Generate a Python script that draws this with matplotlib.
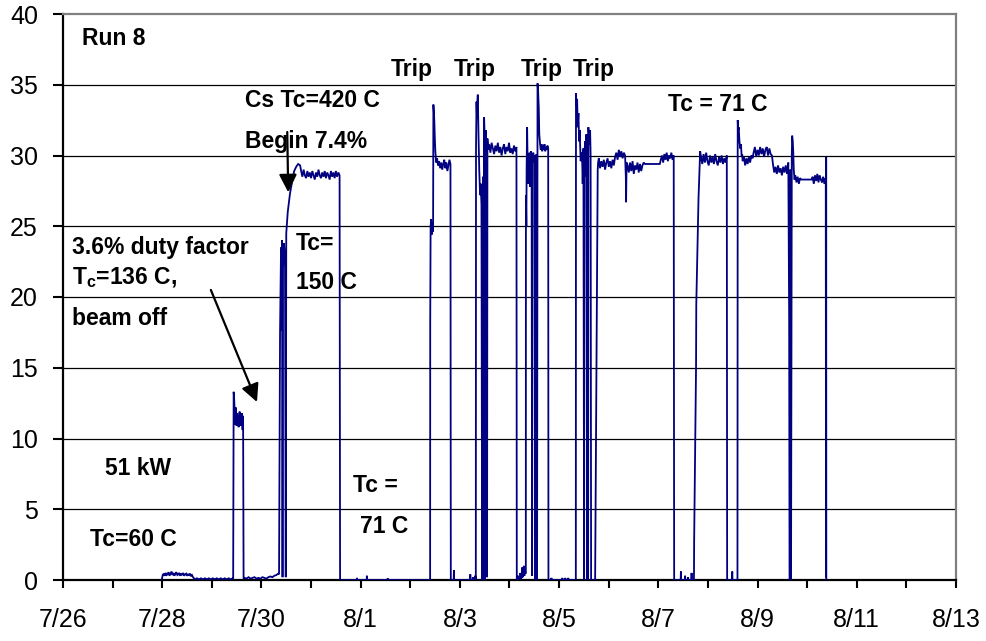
import numpy as np
import matplotlib
matplotlib.use('Agg')
import matplotlib.pyplot as plt
from matplotlib.ticker import FixedLocator, NullFormatter

plt.rcParams['font.family'] = ['Liberation Sans', 'DejaVu Sans']
plt.rcParams['mathtext.fontset'] = 'custom'
plt.rcParams['mathtext.rm'] = 'Liberation Sans'
plt.rcParams['mathtext.bf'] = 'Liberation Sans:bold'

# ---------------- data (time in days since 7/26 00:00) -------------
tick_days = [0, 2, 4, 6, 8, 10, 12, 14, 16, 18]
tick_labels = ['7/26', '7/28', '7/30', '8/1', '8/3', '8/5', '8/7', '8/9', '8/11', '8/13']
minor_days = [1, 3, 5, 7, 9, 11, 13, 15, 17]
y_ticks = [0, 5, 10, 15, 20, 25, 30, 35, 40]


def grid(a, b, vals):
    return list(np.linspace(a, b, len(vals))), list(vals)


idle1_t, idle1_v = grid(1.99, 2.62, [0.0, 0.35, 0.45, 0.3, 0.5, 0.35, 0.4, 0.55, 0.3, 0.45, 0.6, 0.35, 0.5,
                                     0.3, 0.45, 0.55, 0.35, 0.4, 0.5, 0.3, 0.45, 0.35, 0.5, 0.3, 0.4, 0.45,
                                     0.3, 0.4, 0.35, 0.45, 0.3, 0.35, 0.2])
idle2_t, idle2_v = grid(2.66, 3.42, [0.05, 0.12, 0.05, 0.12, 0.05, 0.12, 0.05, 0.12, 0.05, 0.12,
                                     0.05, 0.12, 0.05, 0.12, 0.05, 0.12, 0.05, 0.12, 0.05, 0.12])
duty_t, duty_v = grid(3.43, 3.64, [0.1, 13.3, 12.8, 12.0, 11.0, 12.2, 11.4, 10.9, 11.8, 11.2, 11.6,
                                   10.8, 11.5, 11.9, 11.0, 11.7, 10.9, 11.8, 11.4, 10.6, 11.6, 0.1])
off1_t, off1_v = grid(3.66, 4.34, [0.15, 0.1, 0.2, 0.1, 0.15, 0.2, 0.1, 0.15, 0.1, 0.2, 0.15, 0.1,
                                   0.2, 0.25, 0.2, 0.3, 0.35, 0.45])
rise1_t = [4.355, 4.375, 4.395, 4.405, 4.415, 4.425, 4.435, 4.455, 4.475, 4.49, 4.50, 4.53, 4.575,
           4.62, 4.66, 4.70, 4.74, 4.78]
rise1_v = [0.4, 17.5, 23.5, 17.6, 24.0, 0.2, 22.0, 23.8, 22.5, 0.2, 24.5, 26.0, 27.3, 28.2, 28.9,
           29.2, 29.4, 29.3]
plat1_t, plat1_v = grid(4.80, 5.575, [28.9, 28.5, 29.0, 28.6, 28.4, 28.9, 28.5, 28.8, 28.4, 28.9, 28.6,
                                      28.3, 28.8, 28.5, 29.0, 28.6, 28.4, 28.8, 28.5, 28.9, 28.4, 28.8,
                                      28.6, 28.3, 28.9, 28.5, 28.8, 28.4, 28.9, 28.5, 28.8, 28.6])
off2_t = [5.585, 5.60, 5.92, 5.925, 5.93, 6.12, 6.125, 6.13, 6.54, 6.545, 6.55, 7.39]
off2_v = [0, 0, 0, 0.15, 0, 0, 0.3, 0, 0, 0.12, 0, 0]
trip1a_t = [7.40, 7.402, 7.41, 7.42, 7.43, 7.44, 7.45, 7.46, 7.466, 7.475, 7.485, 7.495, 7.505,
            7.515, 7.525]
trip1a_v = [0, 18.2, 25.0, 25.5, 24.4, 25.3, 24.6, 25.2, 33.6, 33.1, 32.4, 31.2, 30.3, 29.8, 29.5]
trip1b_t, trip1b_v = grid(7.54, 7.81, [29.8, 29.3, 29.6, 29.1, 29.5, 29.0, 29.4, 29.7, 29.1, 29.5,
                                       28.9, 29.3, 29.7, 29.4])
off3_t = [7.817, 7.83, 7.875, 7.88, 7.885, 8.20, 8.21, 8.22, 8.26, 8.27, 8.28, 8.30, 8.31, 8.315]
off3_v = [0, 0, 0, 0.7, 0, 0, 0.4, 0, 0, 0.2, 0, 0, 0.3, 0]
trip2a_t = [8.321, 8.325, 8.335, 8.345, 8.355, 8.361, 8.375, 8.39, 8.407, 8.42, 8.435, 8.448, 8.455,
            8.468, 8.478, 8.483, 8.488, 8.498, 8.508, 8.518, 8.53, 8.548, 8.555, 8.569]
trip2a_v = [0, 30.5, 33.8, 32.6, 34.0, 34.3, 31.5, 29.0, 27.2, 28.0, 26.5, 0, 27.5, 28.5, 0, 18.5,
            32.7, 31.5, 0, 31.8, 30.5, 0.2, 31.2, 30.4]
trip2b_t, trip2b_v = grid(8.59, 9.14, [30.8, 30.2, 30.9, 30.5, 30.1, 30.7, 30.3, 30.9, 30.2, 30.6,
                                       30.0, 30.5, 30.8, 30.1, 30.6, 30.3, 30.9, 30.2, 30.5, 30.1,
                                       30.7, 30.3, 30.6])
off4_t = [9.147, 9.16, 9.17, 9.18, 9.21, 9.22, 9.23, 9.25, 9.26, 9.27, 9.28, 9.29, 9.30, 9.31, 9.32]
off4_v = [0, 0, 0.3, 0, 0, 0.5, 0.1, 0.2, 0.9, 0.2, 0.4, 1.0, 0.3, 0.6, 0.5]
trip3a_t = [9.329, 9.331, 9.34, 9.345, 9.355, 9.365, 9.375, 9.385, 9.395, 9.405, 9.415, 9.425, 9.435,
            9.445, 9.456, 9.465, 9.48, 9.495, 9.505, 9.516, 9.53, 9.545, 9.556, 9.565, 9.577, 9.59,
            9.60, 9.617]
trip3a_v = [0.5, 27.2, 25.0, 29.0, 32.0, 29.5, 28.0, 30.0, 28.5, 30.2, 27.8, 29.8, 30.3, 29.6, 0.3,
            29.8, 30.2, 29.5, 30.0, 0, 29.5, 30.1, 0, 35.1, 34.5, 33.4, 31.5, 30.8]
trip3b_t, trip3b_v = grid(9.63, 9.78, [30.4, 30.8, 30.3, 30.7, 30.4, 30.8, 30.3, 30.6, 30.4, 30.7, 30.5])
off5_t = [9.785, 9.80, 9.84, 9.845, 9.85, 10.06, 10.065, 10.07, 10.12, 10.125, 10.13, 10.18, 10.185,
          10.19, 10.33]
off5_v = [0, 0, 0, 0.15, 0, 0, 0.15, 0, 0, 0.15, 0, 0, 0.15, 0, 0]
trip4a_t = [10.337, 10.34, 10.35, 10.363, 10.375, 10.39, 10.403, 10.415, 10.423, 10.435, 10.45,
            10.464, 10.475, 10.49, 10.504, 10.51, 10.524, 10.535, 10.55, 10.565, 10.57, 10.585,
            10.59, 10.605, 10.625, 10.635, 10.645, 10.70, 10.726, 10.778, 10.786]
trip4a_v = [0, 34.4, 33.5, 34.0, 32.0, 33.0, 31.0, 31.8, 30.8, 29.6, 30.2, 29.8, 28.0, 30.5, 0, 30.0,
            31.0, 28.5, 31.5, 0, 31.2, 0, 32.0, 30.8, 31.8, 30.0, 0, 0, 0, 29.0, 29.5]
trip4b_t, trip4b_v = grid(10.80, 11.33, [29.8, 29.1, 29.6, 29.2, 29.7, 29.0, 29.5, 29.8, 29.2, 29.6,
                                         29.1, 29.7, 29.3, 29.9, 30.2, 29.7, 30.4, 29.9, 30.3, 29.8,
                                         30.2, 30.0])
trip4c_t = [11.345, 11.35, 11.36]
trip4c_v = [28.5, 26.7, 29.5]
trip4d_t, trip4d_v = grid(11.38, 11.73, [29.3, 28.8, 29.5, 28.9, 29.6, 28.7, 29.3, 29.0, 29.5, 28.8,
                                         29.4, 28.9, 29.3, 29.5, 29.4])
trip4e_t = [12.03]
trip4e_v = [29.4]
trip4f_t, trip4f_v = grid(12.05, 12.31, [29.7, 30.0, 29.5, 30.1, 29.7, 30.2, 29.6, 30.0, 29.8, 30.2,
                                         29.7, 30.0])
off6_t = [12.319, 12.45, 12.455, 12.46, 12.535, 12.54, 12.545, 12.595, 12.60, 12.605, 12.665, 12.67,
          12.675, 12.718]
off6_v = [0, 0, 0.6, 0, 0, 0.3, 0, 0, 0.2, 0, 0, 0.5, 0, 0]
run5a_t = [12.722, 12.76, 12.765, 12.81, 12.843]
run5a_v = [2.8, 15.0, 19.5, 27.0, 30.3]
run5b_t, run5b_v = grid(12.86, 13.38, [29.9, 29.4, 30.1, 29.5, 30.2, 29.6, 29.3, 30.0, 29.5, 29.9,
                                       29.4, 30.1, 29.6, 29.3, 29.9, 29.5, 30.0, 29.4, 29.8, 29.5, 30.0])
off7_t = [13.387, 13.40, 13.485, 13.49, 13.495, 13.59]
off7_v = [0, 0, 0, 0.6, 0, 0]
run6a_t = [13.595, 13.60, 13.61, 13.62, 13.635, 13.65, 13.665, 13.68, 13.69]
run6a_v = [0, 32.5, 31.8, 32.0, 31.0, 30.5, 30.8, 29.9, 30.1]
run6b_t, run6b_v = grid(13.70, 13.90, [29.6, 29.9, 29.3, 29.8, 29.4, 29.9, 29.5, 30.0, 29.8])
run6c_t, run6c_v = grid(13.92, 14.29, [30.2, 30.6, 29.9, 30.4, 30.0, 30.6, 30.1, 30.5, 29.9, 30.4,
                                       30.6, 30.0, 30.5, 30.1, 30.0])
run6d_t, run6d_v = grid(14.31, 14.62, [29.4, 28.8, 29.2, 28.7, 29.3, 28.8, 29.1, 28.6, 29.2, 28.8,
                                       29.3, 28.7, 29.5])
run6e_t = [14.637, 14.645, 14.655, 14.66, 14.675, 14.69, 14.698, 14.71, 14.72, 14.73, 14.745]
run6e_v = [18.5, 0, 0, 29.0, 0, 30.0, 31.4, 31.0, 30.2, 29.0, 28.3]
run6f_t, run6f_v = grid(14.76, 14.88, [28.6, 28.1, 28.5, 28.0, 28.4, 28.3])
run6g_t = [15.09]
run6g_v = [28.3]
run6h_t, run6h_v = grid(15.11, 15.37, [28.5, 28.0, 28.6, 28.2, 28.7, 28.1, 28.6, 28.3, 28.1, 28.5,
                                       28.0, 28.4])
run6i_t = [15.375, 15.38, 15.383, 15.386]
run6i_v = [28.0, 0.2, 29.9, 0]

pieces_t = [idle1_t, idle2_t, duty_t, off1_t, rise1_t, plat1_t, off2_t, trip1a_t, trip1b_t, off3_t,
            trip2a_t, trip2b_t, off4_t, trip3a_t, trip3b_t, off5_t, trip4a_t, trip4b_t, trip4c_t,
            trip4d_t, trip4e_t, trip4f_t, off6_t, run5a_t, run5b_t, off7_t, run6a_t, run6b_t,
            run6c_t, run6d_t, run6e_t, run6f_t, run6g_t, run6h_t, run6i_t]
pieces_v = [idle1_v, idle2_v, duty_v, off1_v, rise1_v, plat1_v, off2_v, trip1a_v, trip1b_v, off3_v,
            trip2a_v, trip2b_v, off4_v, trip3a_v, trip3b_v, off5_v, trip4a_v, trip4b_v, trip4c_v,
            trip4d_v, trip4e_v, trip4f_v, off6_v, run5a_v, run5b_v, off7_v, run6a_v, run6b_v,
            run6c_v, run6d_v, run6e_v, run6f_v, run6g_v, run6h_v, run6i_v]

t_all = np.concatenate([np.asarray(p, float) for p in pieces_t])
v_all = np.concatenate([np.asarray(p, float) for p in pieces_v])

# ---------------- figure ----------------
fig = plt.figure(figsize=(9.87, 6.41), dpi=100)
ax = fig.add_axes([63 / 987, 61 / 641, (956 - 63) / 987, (580 - 14) / 641])

for yv in y_ticks[1:-1]:
    ax.axhline(yv, color='black', lw=0.9, zorder=1)

ax.plot(t_all, v_all, color='#000080', lw=1.3, zorder=3, solid_joinstyle='miter')

ax.set_xlim(0, 18)
ax.set_ylim(0, 40)
ax.xaxis.set_major_locator(FixedLocator(tick_days))
ax.set_xticklabels(tick_labels)
ax.xaxis.set_minor_locator(FixedLocator(minor_days))
ax.xaxis.set_minor_formatter(NullFormatter())
ax.set_yticks(y_ticks)
ax.set_yticklabels([str(y) for y in y_ticks])

ax.tick_params(axis='x', which='both', direction='out', length=6, width=1.5, colors='black',
               labelsize=18, pad=14)
ax.tick_params(axis='y', which='major', direction='out', length=7, width=1.5, colors='black',
               labelsize=18, pad=11)

for side in ['left', 'bottom']:
    ax.spines[side].set_color('black')
    ax.spines[side].set_linewidth(1.6)
for side in ['top', 'right']:
    ax.spines[side].set_color('#808080')
    ax.spines[side].set_linewidth(1.6)

tkw = dict(fontsize=16.5, fontweight='bold', color='black', va='center', ha='left', zorder=5)
ax.text(0.38, 38.3, 'Run 8', **tkw)
ax.text(3.67, 33.9, 'Cs Tc=420 C', **tkw)
ax.text(3.67, 31.0, 'Begin 7.4%', **tkw)
for xc in [7.02, 8.29, 9.64, 10.69]:
    ax.text(xc, 36.1, 'Trip', fontsize=16.5, fontweight='bold', color='black', va='center',
            ha='center', zorder=5)
ax.text(12.2, 33.6, 'Tc = 71 C', **tkw)
ax.text(4.70, 23.8, 'Tc=', **tkw)
ax.text(4.70, 21.0, '150 C', **tkw)
ax.text(0.18, 23.5, '3.6% duty factor', **tkw)
ax.text(0.18, 21.4, r'$\mathbf{T_c}$=136 C,', **tkw)
ax.text(0.18, 18.5, 'beam off', **tkw)
ax.text(0.85, 7.85, '51 kW', **tkw)
ax.text(5.85, 6.7, 'Tc =', **tkw)
ax.text(5.99, 3.75, '71 C', **tkw)
ax.text(0.54, 2.83, 'Tc=60 C', **tkw)

astyle = dict(arrowstyle='-|>,head_length=0.6,head_width=0.3', color='black', lw=1.6,
              mutation_scale=18, shrinkA=0, shrinkB=0)
ax.annotate('', xy=(4.54, 27.4), xytext=(4.52, 31.66), arrowprops=astyle, zorder=6)
ax.annotate('', xy=(3.91, 12.58), xytext=(2.98, 20.5), arrowprops=astyle, zorder=6)

fig.savefig('out.png', dpi=100)
